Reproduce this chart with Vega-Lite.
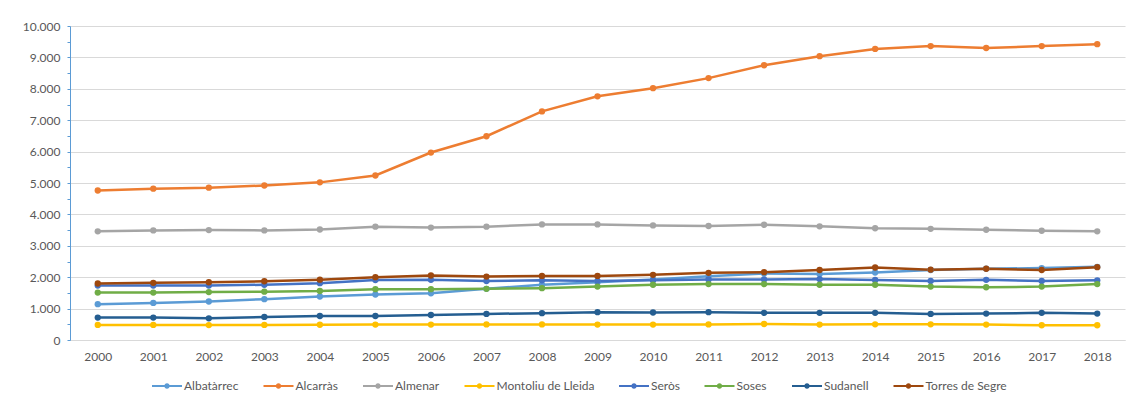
{
  "$schema": "https://vega.github.io/schema/vega-lite/v6.json",
  "autosize": {"type": "fit", "contains": "padding"},
  "width": 1134,
  "height": 405,
  "padding": {"left": 22, "right": 9, "top": 20, "bottom": 43},
  "background": "white",
  "config": {
    "view": {"stroke": null},
    "font": "Lato",
    "axis": {"labelFont": "Lato", "labelColor": "#595959", "labelFontSize": 12},
    "legend": {"labelFont": "Lato", "labelColor": "#595959", "labelFontSize": 12}
  },
  "data": {
    "values": [
      {"year":"2000","town":"Albatàrrec","value":1140},{"year":"2001","town":"Albatàrrec","value":1180},{"year":"2002","town":"Albatàrrec","value":1225},{"year":"2003","town":"Albatàrrec","value":1300},{"year":"2004","town":"Albatàrrec","value":1385},{"year":"2005","town":"Albatàrrec","value":1450},{"year":"2006","town":"Albatàrrec","value":1490},{"year":"2007","town":"Albatàrrec","value":1630},{"year":"2008","town":"Albatàrrec","value":1760},{"year":"2009","town":"Albatàrrec","value":1840},{"year":"2010","town":"Albatàrrec","value":1930},{"year":"2011","town":"Albatàrrec","value":2030},{"year":"2012","town":"Albatàrrec","value":2120},{"year":"2013","town":"Albatàrrec","value":2100},{"year":"2014","town":"Albatàrrec","value":2150},{"year":"2015","town":"Albatàrrec","value":2230},{"year":"2016","town":"Albatàrrec","value":2270},{"year":"2017","town":"Albatàrrec","value":2290},{"year":"2018","town":"Albatàrrec","value":2330},
      {"year":"2000","town":"Alcarràs","value":4760},{"year":"2001","town":"Alcarràs","value":4820},{"year":"2002","town":"Alcarràs","value":4850},{"year":"2003","town":"Alcarràs","value":4920},{"year":"2004","town":"Alcarràs","value":5020},{"year":"2005","town":"Alcarràs","value":5240},{"year":"2006","town":"Alcarràs","value":5970},{"year":"2007","town":"Alcarràs","value":6490},{"year":"2008","town":"Alcarràs","value":7280},{"year":"2009","town":"Alcarràs","value":7760},{"year":"2010","town":"Alcarràs","value":8020},{"year":"2011","town":"Alcarràs","value":8340},{"year":"2012","town":"Alcarràs","value":8750},{"year":"2013","town":"Alcarràs","value":9040},{"year":"2014","town":"Alcarràs","value":9270},{"year":"2015","town":"Alcarràs","value":9360},{"year":"2016","town":"Alcarràs","value":9300},{"year":"2017","town":"Alcarràs","value":9360},{"year":"2018","town":"Alcarràs","value":9420},
      {"year":"2000","town":"Almenar","value":3460},{"year":"2001","town":"Almenar","value":3490},{"year":"2002","town":"Almenar","value":3500},{"year":"2003","town":"Almenar","value":3490},{"year":"2004","town":"Almenar","value":3520},{"year":"2005","town":"Almenar","value":3610},{"year":"2006","town":"Almenar","value":3580},{"year":"2007","town":"Almenar","value":3610},{"year":"2008","town":"Almenar","value":3680},{"year":"2009","town":"Almenar","value":3680},{"year":"2010","town":"Almenar","value":3650},{"year":"2011","town":"Almenar","value":3630},{"year":"2012","town":"Almenar","value":3670},{"year":"2013","town":"Almenar","value":3620},{"year":"2014","town":"Almenar","value":3560},{"year":"2015","town":"Almenar","value":3540},{"year":"2016","town":"Almenar","value":3510},{"year":"2017","town":"Almenar","value":3480},{"year":"2018","town":"Almenar","value":3460},
      {"year":"2000","town":"Montoliu de Lleida","value":480},{"year":"2001","town":"Montoliu de Lleida","value":480},{"year":"2002","town":"Montoliu de Lleida","value":475},{"year":"2003","town":"Montoliu de Lleida","value":480},{"year":"2004","town":"Montoliu de Lleida","value":485},{"year":"2005","town":"Montoliu de Lleida","value":490},{"year":"2006","town":"Montoliu de Lleida","value":490},{"year":"2007","town":"Montoliu de Lleida","value":495},{"year":"2008","town":"Montoliu de Lleida","value":495},{"year":"2009","town":"Montoliu de Lleida","value":490},{"year":"2010","town":"Montoliu de Lleida","value":490},{"year":"2011","town":"Montoliu de Lleida","value":495},{"year":"2012","town":"Montoliu de Lleida","value":510},{"year":"2013","town":"Montoliu de Lleida","value":490},{"year":"2014","town":"Montoliu de Lleida","value":500},{"year":"2015","town":"Montoliu de Lleida","value":500},{"year":"2016","town":"Montoliu de Lleida","value":490},{"year":"2017","town":"Montoliu de Lleida","value":470},{"year":"2018","town":"Montoliu de Lleida","value":470},
      {"year":"2000","town":"Seròs","value":1735},{"year":"2001","town":"Seròs","value":1735},{"year":"2002","town":"Seròs","value":1735},{"year":"2003","town":"Seròs","value":1760},{"year":"2004","town":"Seròs","value":1810},{"year":"2005","town":"Seròs","value":1910},{"year":"2006","town":"Seròs","value":1915},{"year":"2007","town":"Seròs","value":1880},{"year":"2008","town":"Seròs","value":1900},{"year":"2009","town":"Seròs","value":1880},{"year":"2010","town":"Seròs","value":1900},{"year":"2011","town":"Seròs","value":1930},{"year":"2012","town":"Seròs","value":1930},{"year":"2013","town":"Seròs","value":1940},{"year":"2014","town":"Seròs","value":1910},{"year":"2015","town":"Seròs","value":1880},{"year":"2016","town":"Seròs","value":1915},{"year":"2017","town":"Seròs","value":1880},{"year":"2018","town":"Seròs","value":1900},
      {"year":"2000","town":"Soses","value":1510},{"year":"2001","town":"Soses","value":1510},{"year":"2002","town":"Soses","value":1525},{"year":"2003","town":"Soses","value":1540},{"year":"2004","town":"Soses","value":1560},{"year":"2005","town":"Soses","value":1620},{"year":"2006","town":"Soses","value":1620},{"year":"2007","town":"Soses","value":1630},{"year":"2008","town":"Soses","value":1650},{"year":"2009","town":"Soses","value":1700},{"year":"2010","town":"Soses","value":1760},{"year":"2011","town":"Soses","value":1780},{"year":"2012","town":"Soses","value":1780},{"year":"2013","town":"Soses","value":1760},{"year":"2014","town":"Soses","value":1760},{"year":"2015","town":"Soses","value":1700},{"year":"2016","town":"Soses","value":1680},{"year":"2017","town":"Soses","value":1700},{"year":"2018","town":"Soses","value":1780},
      {"year":"2000","town":"Sudanell","value":713},{"year":"2001","town":"Sudanell","value":713},{"year":"2002","town":"Sudanell","value":690},{"year":"2003","town":"Sudanell","value":735},{"year":"2004","town":"Sudanell","value":765},{"year":"2005","town":"Sudanell","value":765},{"year":"2006","town":"Sudanell","value":795},{"year":"2007","town":"Sudanell","value":830},{"year":"2008","town":"Sudanell","value":855},{"year":"2009","town":"Sudanell","value":885},{"year":"2010","town":"Sudanell","value":875},{"year":"2011","town":"Sudanell","value":885},{"year":"2012","town":"Sudanell","value":865},{"year":"2013","town":"Sudanell","value":865},{"year":"2014","town":"Sudanell","value":865},{"year":"2015","town":"Sudanell","value":830},{"year":"2016","town":"Sudanell","value":840},{"year":"2017","town":"Sudanell","value":865},{"year":"2018","town":"Sudanell","value":840},
      {"year":"2000","town":"Torres de Segre","value":1800},{"year":"2001","town":"Torres de Segre","value":1820},{"year":"2002","town":"Torres de Segre","value":1840},{"year":"2003","town":"Torres de Segre","value":1870},{"year":"2004","town":"Torres de Segre","value":1920},{"year":"2005","town":"Torres de Segre","value":2000},{"year":"2006","town":"Torres de Segre","value":2055},{"year":"2007","town":"Torres de Segre","value":2020},{"year":"2008","town":"Torres de Segre","value":2040},{"year":"2009","town":"Torres de Segre","value":2040},{"year":"2010","town":"Torres de Segre","value":2075},{"year":"2011","town":"Torres de Segre","value":2140},{"year":"2012","town":"Torres de Segre","value":2160},{"year":"2013","town":"Torres de Segre","value":2230},{"year":"2014","town":"Torres de Segre","value":2310},{"year":"2015","town":"Torres de Segre","value":2240},{"year":"2016","town":"Torres de Segre","value":2270},{"year":"2017","town":"Torres de Segre","value":2230},{"year":"2018","town":"Torres de Segre","value":2320}
    ]
  },
  "mark": {"type": "line", "strokeWidth": 2.5, "point": {"filled": true, "size": 40, "opacity": 1}},
  "encoding": {
    "x": {
      "field": "year", "type": "ordinal",
      "scale": {"type": "point", "padding": 0.5},
      "axis": {"title": null, "labelAngle": 0, "ticks": false, "domainColor": "#D9D9D9", "domainWidth": 1, "labelPadding": 11}
    },
    "y": {
      "field": "value", "type": "quantitative",
      "scale": {"domain": [0, 10000]},
      "axis": {
        "title": null,
        "values": [0,500,1000,1500,2000,2500,3000,3500,4000,4500,5000,5500,6000,6500,7000,7500,8000,8500,9000,9500,10000],
        "labelExpr": "datum.value % 1000 == 0 ? replace(format(datum.value, ','), ',', '.') : ''",
        "gridColor": "#D9D9D9",
        "gridOpacity": {"condition": {"test": "datum.value % 1000 == 0", "value": 1}, "value": 0},
        "domainColor": "#5B9BD5", "tickColor": "#5B9BD5", "tickSize": 3, "labelPadding": 7
      }
    },
    "color": {
      "field": "town", "type": "nominal",
      "scale": {
        "domain": ["Albatàrrec","Alcarràs","Almenar","Montoliu de Lleida","Seròs","Soses","Sudanell","Torres de Segre"],
        "range": ["#5B9BD5","#ED7D31","#A5A5A5","#FFC000","#4472C4","#70AD47","#255E91","#9E480E"]
      },
      "legend": {
        "title": null, "orient": "none", "legendX": 82, "legendY": 345, "direction": "horizontal",
        "symbolType": "M-1,-0.07H1V0.07H-1Z M-0.18,0A0.18,0.18 0 1,1 0.18,0A0.18,0.18 0 1,1 -0.18,0Z",
        "symbolSize": 900, "symbolStrokeWidth": 0, "columnPadding": 24.5, "labelOffset": 2,
        "encode": {"symbols": {"update": {"fill": {"scale": "color", "field": "value"}, "strokeWidth": {"value": 0}}}}
      }
    }
  }
}
